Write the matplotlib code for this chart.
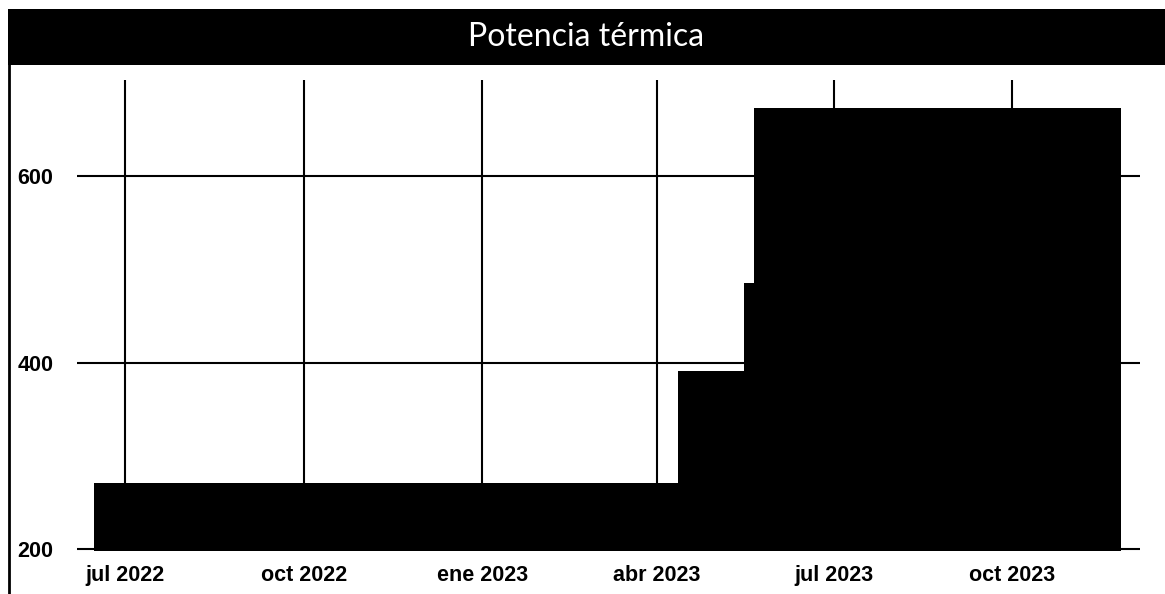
import matplotlib
matplotlib.use("Agg")
import matplotlib.pyplot as plt
import matplotlib.dates as mdates
from matplotlib.patches import Rectangle
from matplotlib.lines import Line2D
import numpy as np

# datos (escalones de potencia)
fechas = np.array(['2022-06-15', '2023-04-12', '2023-05-16', '2023-05-21', '2023-11-26'], dtype='datetime64[D]')
potencia = [271, 391, 485, 673, 673]
ticks_x = np.array(['2022-07-01', '2022-10-01', '2023-01-01', '2023-04-01', '2023-07-01', '2023-10-01'], dtype='datetime64[D]')
etiquetas_x = ['jul 2022', 'oct 2022', 'ene 2023', 'abr 2023', 'jul 2023', 'oct 2023']
ticks_y = [200, 400, 600]
titulo = 'Potencia térmica'

W, H = 1165, 594
fig = plt.figure(figsize=(W / 100, H / 100), dpi=100)

# barra del titulo
fig.patches.append(Rectangle((8 / W, 1 - 65 / H), 1 - 8 / W, 56 / H, transform=fig.transFigure,
                             facecolor='black', edgecolor='none', zorder=0))
fig.text((8 + W) / 2 / W, 1 - 37 / H, titulo, color='white', fontsize=23, family='Lato',
         ha='center', va='center')
fig.lines.append(Line2D([8.5 / W, 8.5 / W], [0, 1 - 65 / H], transform=fig.transFigure, color='black', lw=2))

ax = fig.add_axes([77 / W, 1 - 551 / H, (1140 - 77) / W, (551 - 80) / H])
x = mdates.date2num(fechas.astype('datetime64[s]').astype(object))
ax.fill_between(x, 0, potencia, step='post', color='black', lw=0, zorder=2)

ax.set_ylim(198, 703)
ax.set_xlim(mdates.date2num(np.datetime64('2022-06-06').astype(object)),
            mdates.date2num(np.datetime64('2023-12-06').astype(object)))
ax.set_xticks(mdates.date2num(ticks_x.astype(object)))
ax.set_xticklabels(etiquetas_x)
ax.set_yticks(ticks_y)
ax.set_yticklabels([str(v) for v in ticks_y])
ax.grid(True, color='black', lw=1.5, zorder=1)
ax.set_axisbelow(True)
for s in ax.spines.values():
    s.set_visible(False)
ax.tick_params(length=0)
ax.tick_params(axis='x', pad=10)
ax.tick_params(axis='y', pad=17)
for lab in ax.get_xticklabels() + ax.get_yticklabels():
    lab.set_fontfamily('Liberation Sans')
    lab.set_fontweight('bold')
    lab.set_fontsize(15.5)

fig.savefig('out.png', dpi=100)
